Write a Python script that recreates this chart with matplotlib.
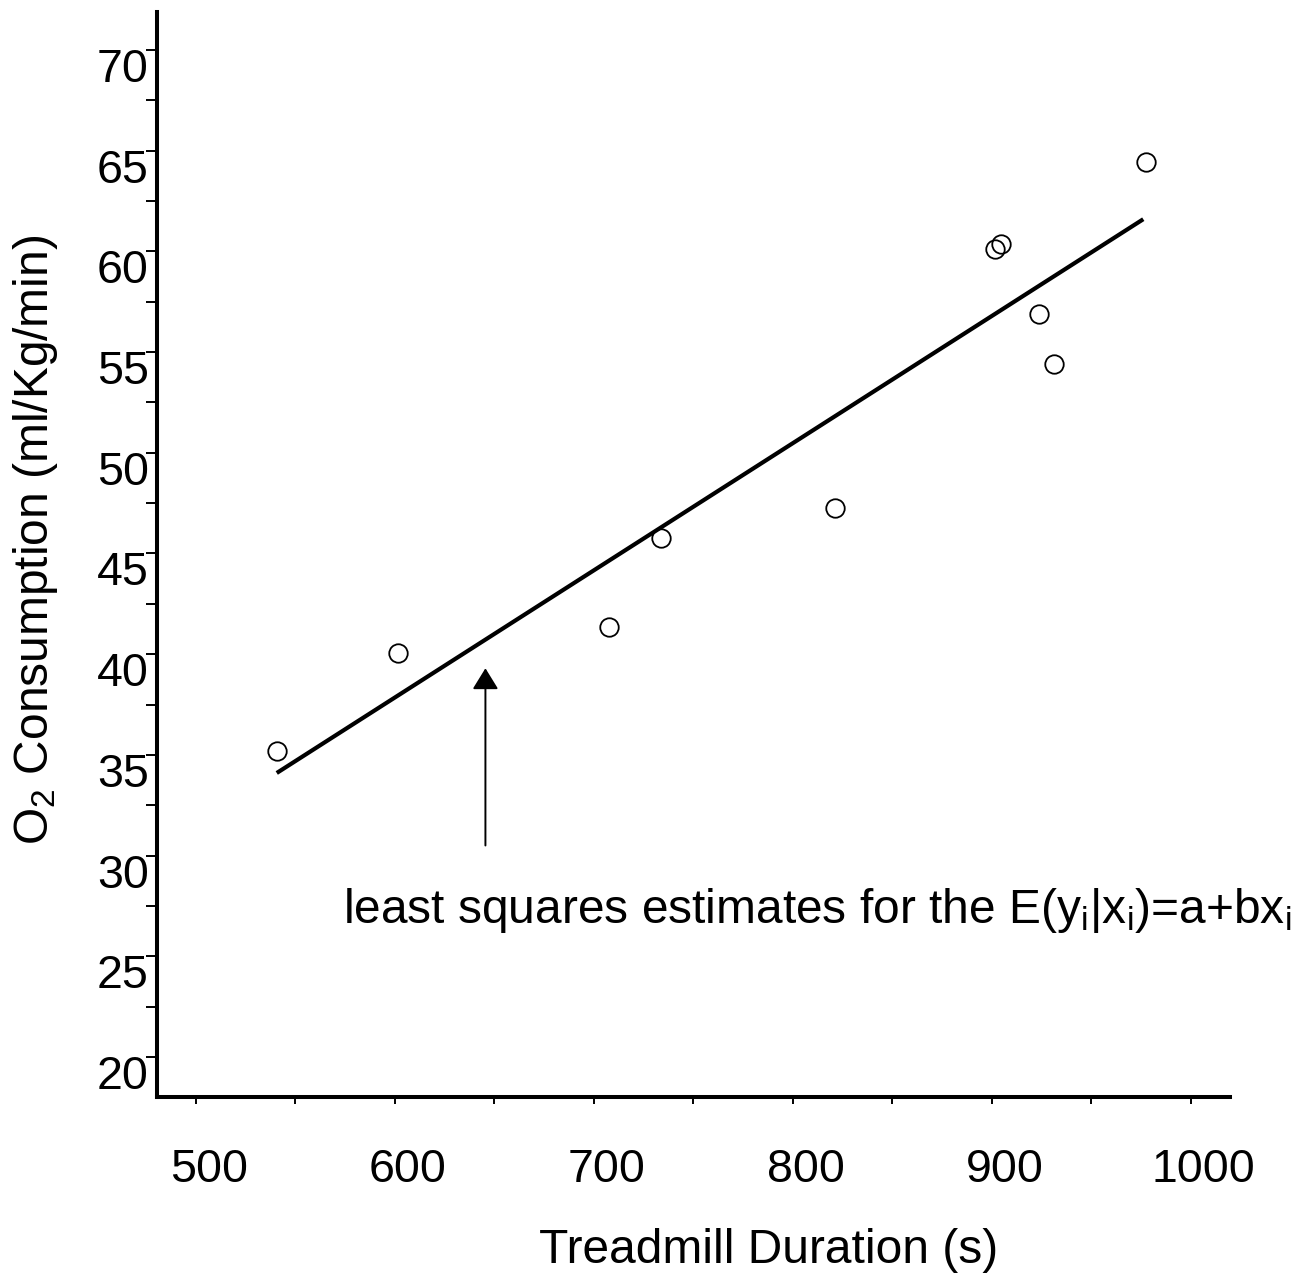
import matplotlib
matplotlib.use("Agg")
import matplotlib.pyplot as plt
from matplotlib.transforms import ScaledTranslation
from matplotlib.ticker import MultipleLocator

plt.rcParams['font.family'] = ['Liberation Sans', 'DejaVu Sans']
plt.rcParams['mathtext.fontset'] = 'custom'
plt.rcParams['mathtext.rm'] = 'Liberation Sans'
plt.rcParams['mathtext.it'] = 'Liberation Sans'

# Data
duration = [540.7, 601.5, 707.6, 733.6, 821.2, 901.6, 904.5, 923.7, 931.4, 977.4]
o2 = [35.2, 40.06, 41.35, 45.78, 47.26, 60.12, 60.37, 56.88, 54.4, 64.45]
fit_x = [540.6, 976.2]
fit_y = [34.1, 61.6]
arrow_x = 645.5
arrow_tip_y = 39.3
arrow_base_y = 30.5
x_ticks = [500, 600, 700, 800, 900, 1000]
y_ticks = [20, 25, 30, 35, 40, 45, 50, 55, 60, 65, 70]

fig = plt.figure(figsize=(12.95, 12.75), dpi=100)
ax = fig.add_axes([157/1295, 1-1097/1275, (1230-157)/1295, (1097-12)/1275])

ax.plot(fit_x, fit_y, color='black', lw=3.0, solid_capstyle='butt')
ax.plot(duration, o2, linestyle='none', marker='o', markersize=13.3,
        markerfacecolor='none', markeredgecolor='black', markeredgewidth=1.3)

ax.annotate('', xy=(arrow_x, arrow_tip_y), xytext=(arrow_x, arrow_base_y),
            arrowprops=dict(arrowstyle='-|>,head_length=0.65,head_width=0.4',
                            mutation_scale=20, lw=1.4, color='black',
                            shrinkA=0, shrinkB=0))

ax.text(573.9, 26.65, r'least squares estimates for the E(y$_{\mathrm{i}}$|x$_{\mathrm{i}}$)=a+bx$_{\mathrm{i}}$',
        fontsize=34.5, va='baseline', ha='left')

ax.set_xlim(480.4, 1019.8)
ax.set_ylim(18.01, 71.89)

for s in ['top', 'right']:
    ax.spines[s].set_visible(False)
for s in ['left', 'bottom']:
    ax.spines[s].set_linewidth(2.9)

ax.set_xticks(x_ticks)
ax.set_yticks(y_ticks)
ax.xaxis.set_minor_locator(MultipleLocator(50))
ax.yaxis.set_minor_locator(MultipleLocator(2.5))
ax.tick_params(axis='x', which='both', direction='out', length=5, width=1.4,
               labelsize=33.5, pad=32)
ax.tick_params(axis='y', which='both', direction='out', length=8, width=1.4,
               labelsize=33.5, pad=-2.2)

for lbl in ax.get_xticklabels():
    lbl.set_transform(lbl.get_transform() + ScaledTranslation(13/100, 0, fig.dpi_scale_trans))
for lbl in ax.get_yticklabels():
    lbl.set_transform(lbl.get_transform() + ScaledTranslation(0, -15/100, fig.dpi_scale_trans))

xl = ax.set_xlabel('Treadmill Duration (s)', fontsize=34.5)
xl.set_va('baseline')
ax.xaxis.set_label_coords((768.5-157)/1073, (1097-1263)/1085)

yl = ax.set_ylabel(r'O$_2$ Consumption (ml/Kg/min)', fontsize=34.5)
yl.set_va('center')
ax.yaxis.set_label_coords((36-157)/1073, (1097-540)/1085)

fig.savefig('out.png', dpi=100)
